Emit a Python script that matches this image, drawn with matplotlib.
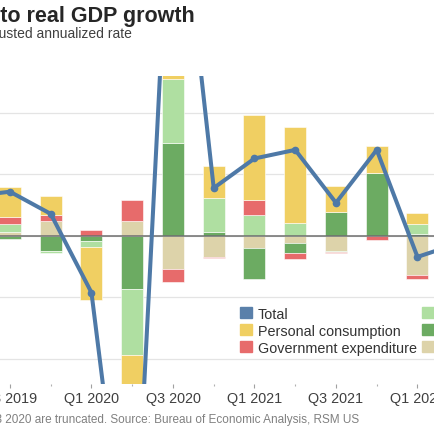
import matplotlib.pyplot as plt
import numpy as np
from matplotlib.patches import Patch

plt.rcParams['font.family'] = ['Liberation Sans', 'DejaVu Sans']

# quarters (first and last are only partly in view)
quarters = ['Q2 2019', 'Q3 2019', 'Q4 2019', 'Q1 2020', 'Q2 2020', 'Q3 2020', 'Q4 2020',
            'Q1 2021', 'Q2 2021', 'Q3 2021', 'Q4 2021', 'Q1 2022', 'Q2 2022']
total = [3.2, 3.6, 1.8, -4.6, -31.2, 33.8, 3.9, 6.3, 7.0, 2.7, 7.0, -1.7, -0.6]

# contributions, Q3 2019 .. Q1 2022
net_exports = [0.3, 1.2, 0.0, 1.25, -2.7, -1.7, -1.0, -0.55, -1.2, 0.0, -3.2]
inventories = [-0.25, -1.2, -0.4, -4.3, 7.55, 0.3, -2.5, -0.8, 1.95, 5.1, 0.15]
fixed_investment = [0.65, -0.15, -0.5, -5.4, 5.2, 2.75, 1.7, 1.05, -0.1, 0.0, 0.8]
government = [0.6, 0.5, 0.5, 1.65, -1.05, -0.1, 1.2, -0.55, -0.1, -0.3, -0.3]
consumption = [2.4, 1.55, -4.3, -24.4, 24.8, 2.65, 6.9, 7.8, 2.1, 2.2, 0.9]

series = [
    ('Net exports', net_exports, '#ddd3aa'),
    ('Inventories', inventories, '#6cab62'),
    ('Fixed investment', fixed_investment, '#afdfa1'),
    ('Government expenditure', government, '#e76b6b'),
    ('Personal consumption', consumption, '#f0cf62'),
]

fig = plt.figure(figsize=(4.35, 4.35), dpi=100)
# axes run past both sides of the canvas (cropped view)
ax = fig.add_axes([-0.2113, 0.1159, 1.3209, 0.7069])

x = np.arange(len(quarters))
xb = x[1:12]
pos_bottom = np.zeros(len(xb))
neg_bottom = np.zeros(len(xb))
for name, vals, col in series:
    v = np.array(vals)
    bottom = np.where(v >= 0, pos_bottom, neg_bottom)
    ax.bar(xb, v, 0.54, bottom=bottom, color=col, edgecolor='#ffffff', linewidth=0.4, zorder=2)
    pos_bottom = pos_bottom + np.where(v >= 0, v, 0)
    neg_bottom = neg_bottom + np.where(v < 0, v, 0)

ax.axhline(0, color='#6e6e6e', lw=1.1, zorder=2.5)
ax.plot(x, total, color='#4e79a7', lw=2.9, marker='o', markersize=4.5, zorder=3,
        solid_capstyle='round')

ax.set_xlim(-1.5, 12.6)
ax.set_ylim(-12, 13)
ax.set_yticks([-10, -5, 0, 5, 10])
ax.yaxis.grid(True, color='#e4e4e4', lw=0.9, zorder=0)
ax.set_axisbelow(True)
ax.tick_params(axis='y', left=False, labelleft=False)
for s in ax.spines.values():
    s.set_visible(False)

ax.set_xticks(x[1::2])
ax.set_xticklabels(quarters[1::2])
ax.set_xticks(x[0::2], minor=True)
ax.tick_params(axis='x', which='major', length=3, width=0.8, color='#a0a0a0', pad=2.5,
               labelsize=10.4, labelcolor='#404040')
ax.tick_params(axis='x', which='minor', length=1.2, width=0.8, color='#b0b0b0')

labels = ['Total', 'Personal consumption', 'Government expenditure',
          'Fixed investment', 'Inventories', 'Net exports']
handles = [Patch(color='#5a80aa'), Patch(color='#f0cf62'), Patch(color='#e76b6b'),
           Patch(color='#afdfa1'), Patch(color='#6cab62'), Patch(color='#ddd3aa')]
leg = fig.legend(handles, labels, ncol=2, loc='upper left', bbox_to_anchor=(240 / 435, 0.293),
                 frameon=False, fontsize=10.4, handlelength=0.85, handleheight=0.85,
                 handletextpad=0.4, columnspacing=0.35, labelspacing=0.21,
                 borderpad=0, borderaxespad=0)
for t in leg.get_texts():
    t.set_color('#333333')

fig.text(195 / 435, 1 - 22 / 435, 'Contributions to real GDP growth', ha='right', va='baseline',
         fontsize=15.5, fontweight='bold', color='#262626')
fig.text(132 / 435, 1 - 38 / 435, 'Seasonally adjusted annualized rate', ha='right', va='baseline',
         fontsize=10, color='#404040')
fig.text(359 / 435, 1 - 423 / 435,
         'Note: Values for Q2 and Q3 2020 are truncated. Source: Bureau of Economic Analysis, RSM US',
         ha='right', va='baseline', fontsize=8.5, color='#808080')

plt.savefig('out.png', dpi=100)
